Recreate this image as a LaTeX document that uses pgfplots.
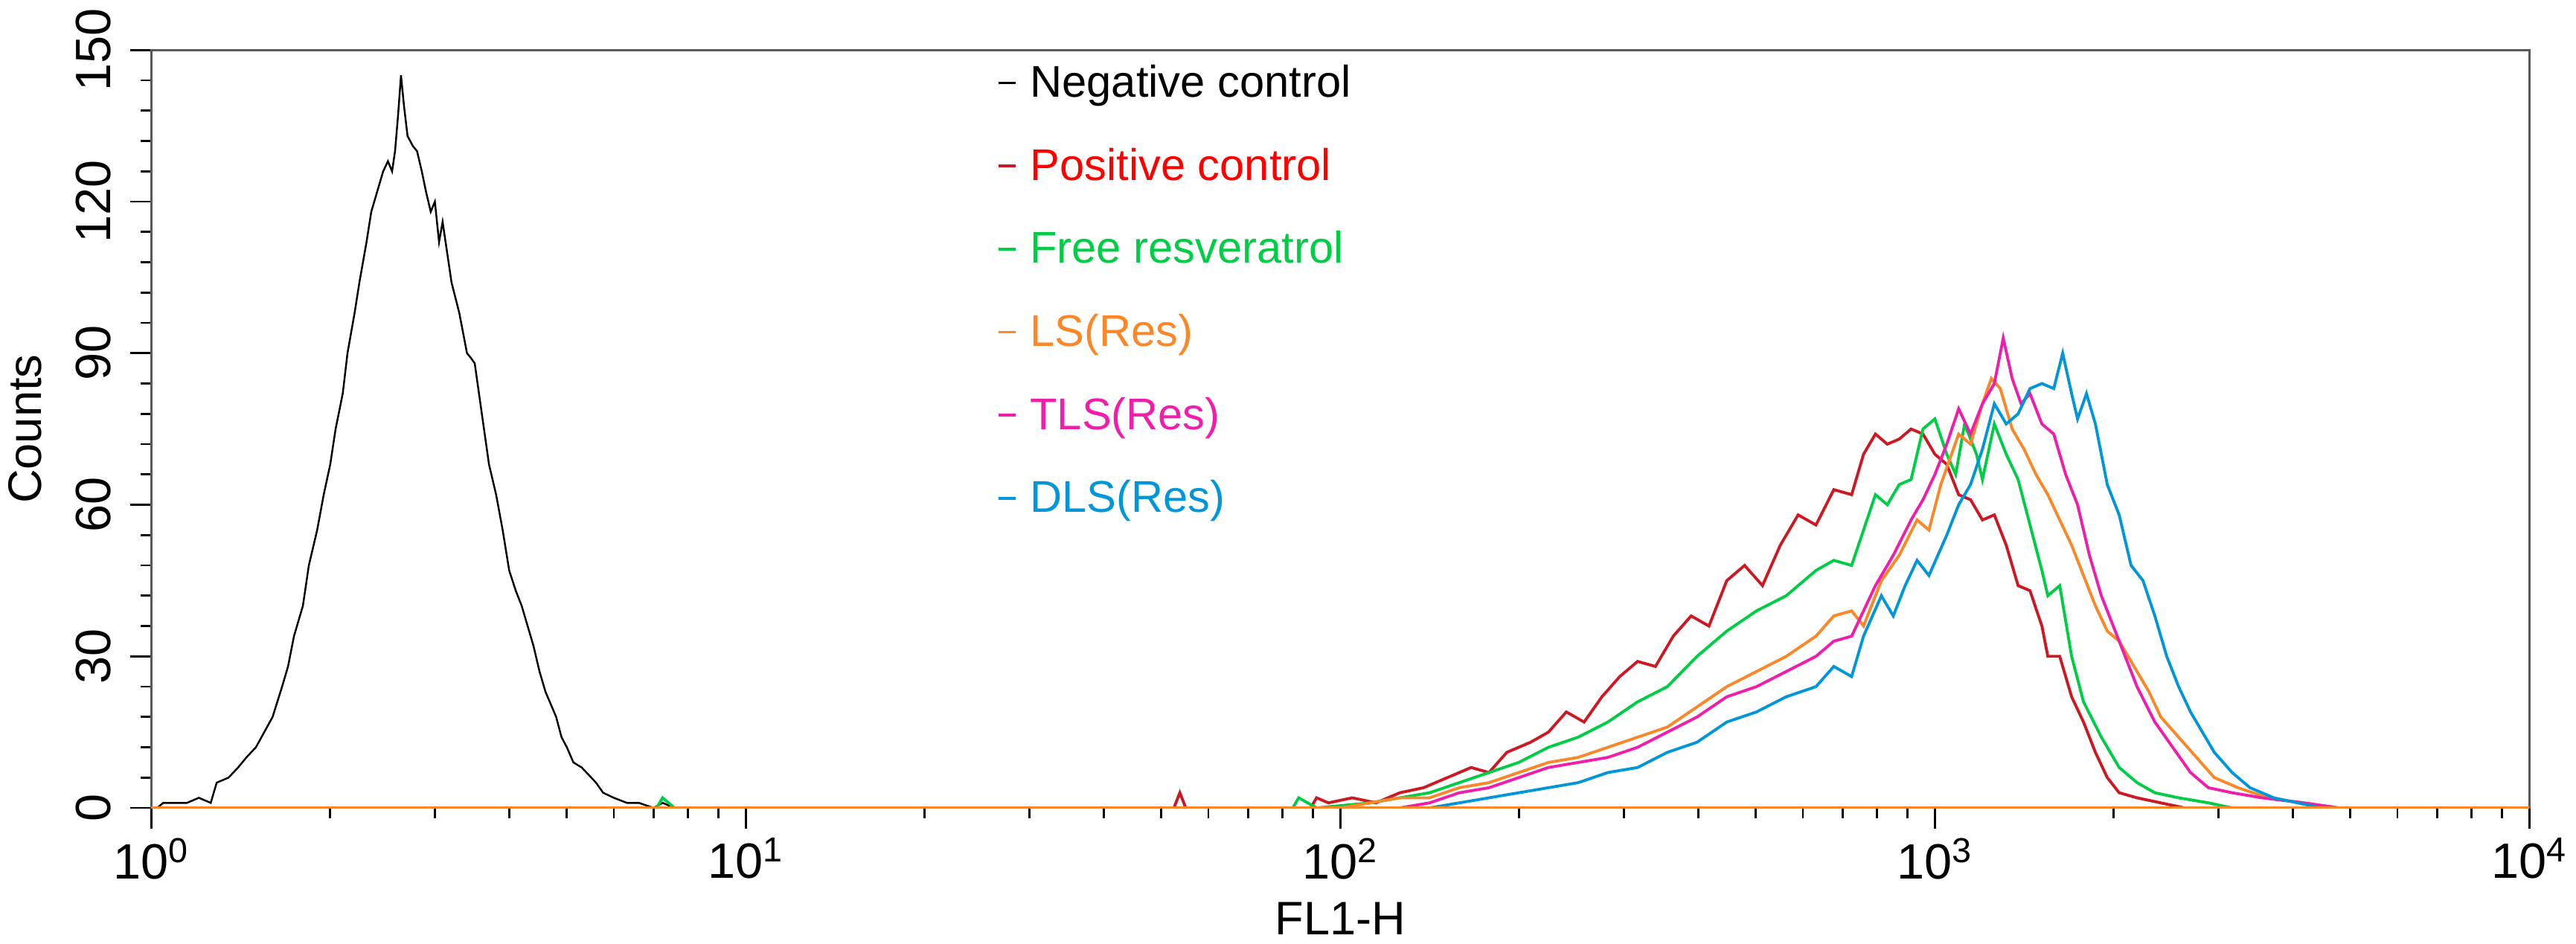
\documentclass[border=0pt]{standalone}
\usepackage{pgfplots}
\pgfplotsset{compat=1.18}
\usepackage{fontspec}
\setmainfont{Liberation Sans}
\definecolor{cred}{RGB}{205,25,35}
\definecolor{cgreen}{RGB}{0,205,70}
\definecolor{corange}{RGB}{250,135,40}
\definecolor{cpink}{RGB}{240,30,170}
\definecolor{cblue}{RGB}{0,150,215}
\begin{document}
\begin{tikzpicture}
\begin{axis}[
  scale only axis, width=32cm, height=10.2cm,
  xmin=0, xmax=4, ymin=0, ymax=150,
  xtick={0,1,2,3,4},
  xticklabels={10\textsuperscript{0},10\textsuperscript{1},10\textsuperscript{2},10\textsuperscript{3},10\textsuperscript{4}},
  minor xtick={0.301,0.477,0.602,0.699,0.778,0.845,0.903,0.954,1.301,1.477,1.602,1.699,1.778,1.845,1.903,1.954,2.301,2.477,2.602,2.699,2.778,2.845,2.903,2.954,3.301,3.477,3.602,3.699,3.778,3.845,3.903,3.954},
  ytick={0,30,60,90,120,150},
  minor y tick num=4,
  xtick pos=bottom, ytick pos=left,
  yticklabel style={rotate=90, anchor=south, yshift=4pt},
  tick align=outside, major tick length=8pt, minor tick length=4pt,
  axis line style={gray!70!black, line width=0.8pt},
  tick style={black, line width=0.8pt},
  ticklabel style={font=\fontsize{19}{21}\selectfont},
  /pgf/number format/assume math mode=true,
  xlabel={FL1-H}, ylabel={Counts},
  label style={font=\fontsize{18}{20}\selectfont},
  ylabel style={yshift=6pt},
  xlabel style={yshift=-2pt},
  legend style={at={(0.352,0.995)}, anchor=north west, draw=none, fill=none,
    font=\fontsize{17}{20}\selectfont, row sep=14pt},
  legend cell align=left,
  legend image post style={xscale=0.4},
  every axis plot/.append style={line width=1.1pt, sharp plot},
]
\addplot[black, line width=0.7pt] coordinates {
(0,0)(0.01,0)(0.02,1)(0.06,1)(0.08,2)(0.10,1)(0.11,5)(0.13,6)(0.146,8)(0.16,10)(0.176,12)(0.19,15)(0.204,18)(0.22,24)(0.23,28)(0.24,34)(0.255,40)(0.265,48)(0.279,55)(0.29,62)(0.301,68)(0.31,75)(0.322,82)(0.33,90)(0.342,98)(0.35,104)(0.362,112)(0.37,118)(0.38,122)(0.39,126)(0.398,128)(0.405,126)(0.41,130)(0.415,137)(0.42,145)(0.425,139)(0.431,133)(0.44,131)(0.447,130)(0.455,126)(0.462,122)(0.47,118)(0.477,120)(0.484,112)(0.49,116)(0.5,108)(0.505,104)(0.518,98)(0.531,90)(0.538,89)(0.544,88)(0.556,78)(0.568,68)(0.58,62)(0.591,55)(0.602,47)(0.613,43)(0.623,40)(0.643,32)(0.653,27)(0.663,23)(0.681,18)(0.69,14)(0.699,12)(0.71,9)(0.724,8)(0.748,5)(0.76,3)(0.778,2)(0.80,1)(0.82,1)(0.845,0)(0.86,1)(0.88,0)(4,0)};
\addlegendentry{\textcolor{black}{\,Negative control}}
\addplot[cred] coordinates {
(0,0)(1.72,0)(1.73,3)(1.74,0)(1.95,0)(1.96,2)(1.98,1)(2.02,2)(2.06,1)(2.1,3)(2.14,4)(2.18,6)(2.22,8)(2.25,7)(2.28,11)(2.32,13)(2.35,15)(2.38,19)(2.41,17)(2.44,22)(2.47,26)(2.5,29)(2.53,28)(2.56,34)(2.59,38)(2.62,36)(2.65,45)(2.68,48)(2.71,44)(2.74,52)(2.77,58)(2.8,56)(2.83,63)(2.86,62)(2.88,70)(2.9,74)(2.92,72)(2.94,73)(2.96,75)(2.98,74)(3.0,70)(3.02,68)(3.04,62)(3.06,61)(3.08,57)(3.1,58)(3.12,52)(3.14,44)(3.16,43)(3.18,36)(3.19,30)(3.21,30)(3.23,22)(3.25,17)(3.27,11)(3.29,6)(3.31,3)(3.34,2)(3.38,1)(3.42,0)(4,0)};
\addlegendentry{\textcolor{red}{\,Positive control}}
\addplot[cgreen] coordinates {
(0,0)(0.85,0)(0.86,2)(0.88,0)(1.92,0)(1.93,2)(1.96,0)(2.05,1)(2.1,2)(2.15,3)(2.2,5)(2.25,7)(2.3,9)(2.35,12)(2.4,14)(2.45,17)(2.5,21)(2.55,24)(2.6,30)(2.65,35)(2.7,39)(2.75,42)(2.8,47)(2.83,49)(2.86,48)(2.88,55)(2.9,62)(2.92,60)(2.94,64)(2.96,65)(2.98,75)(3.0,77)(3.02,70)(3.035,66)(3.05,76)(3.07,70)(3.08,65)(3.1,76)(3.12,70)(3.14,65)(3.16,56)(3.18,47)(3.19,42)(3.21,44)(3.23,30)(3.25,21)(3.28,14)(3.31,8)(3.34,5)(3.37,3)(3.41,2)(3.46,1)(3.5,0)(4,0)};
\addlegendentry{\textcolor{cgreen}{\,Free resveratrol}}
\addplot[corange] coordinates {
(0,0)(2.0,0)(2.05,1)(2.1,2)(2.15,2)(2.2,4)(2.25,5)(2.3,7)(2.35,9)(2.4,10)(2.45,12)(2.5,14)(2.55,16)(2.6,20)(2.65,24)(2.7,27)(2.75,30)(2.8,34)(2.83,38)(2.86,39)(2.88,36)(2.91,45)(2.94,50)(2.97,57)(2.99,55)(3.01,64)(3.04,74)(3.06,72)(3.08,80)(3.095,85)(3.11,83)(3.13,75)(3.15,71)(3.17,66)(3.19,62)(3.21,57)(3.23,52)(3.25,46)(3.27,40)(3.29,35)(3.31,33)(3.33,29)(3.36,23)(3.38,18)(3.41,14)(3.44,10)(3.47,6)(3.51,4)(3.56,2)(3.62,1)(3.68,0)(4,0)};
\addlegendentry{\textcolor{corange}{\,LS(Res)}}
\addplot[cpink] coordinates {
(0,0)(2.1,0)(2.15,1)(2.2,3)(2.25,4)(2.3,6)(2.35,8)(2.4,9)(2.45,10)(2.5,12)(2.55,15)(2.6,18)(2.65,22)(2.7,24)(2.75,27)(2.8,30)(2.83,33)(2.86,34)(2.9,44)(2.93,50)(2.96,57)(2.98,61)(3.0,66)(3.02,72)(3.04,79)(3.06,74)(3.08,80)(3.1,84)(3.115,93)(3.13,85)(3.145,80)(3.16,82)(3.18,76)(3.2,74)(3.22,66)(3.24,60)(3.26,50)(3.28,42)(3.31,33)(3.34,24)(3.37,17)(3.4,12)(3.43,7)(3.46,4)(3.5,3)(3.55,2)(3.62,1)(3.68,0)(4,0)};
\addlegendentry{\textcolor{cpink}{\,TLS(Res)}}
\addplot[cblue] coordinates {
(0,0)(2.15,0)(2.2,1)(2.25,2)(2.3,3)(2.35,4)(2.4,5)(2.45,7)(2.5,8)(2.55,11)(2.6,13)(2.65,17)(2.7,19)(2.75,22)(2.8,24)(2.83,28)(2.86,26)(2.88,34)(2.91,42)(2.93,38)(2.95,44)(2.97,49)(2.99,46)(3.02,54)(3.04,60)(3.06,64)(3.08,71)(3.1,80)(3.12,76)(3.14,78)(3.16,83)(3.18,84)(3.2,83)(3.215,90)(3.23,82)(3.24,77)(3.255,82)(3.27,76)(3.29,64)(3.31,58)(3.33,48)(3.35,45)(3.37,38)(3.39,30)(3.41,24)(3.43,19)(3.45,15)(3.47,11)(3.5,7)(3.53,4)(3.57,2)(3.61,1)(3.65,0)(4,0)};
\addlegendentry{\textcolor{cblue}{\,DLS(Res)}}
\addplot[corange, forget plot] coordinates {(0,0)(4,0)};
\end{axis}
\end{tikzpicture}
\end{document}
